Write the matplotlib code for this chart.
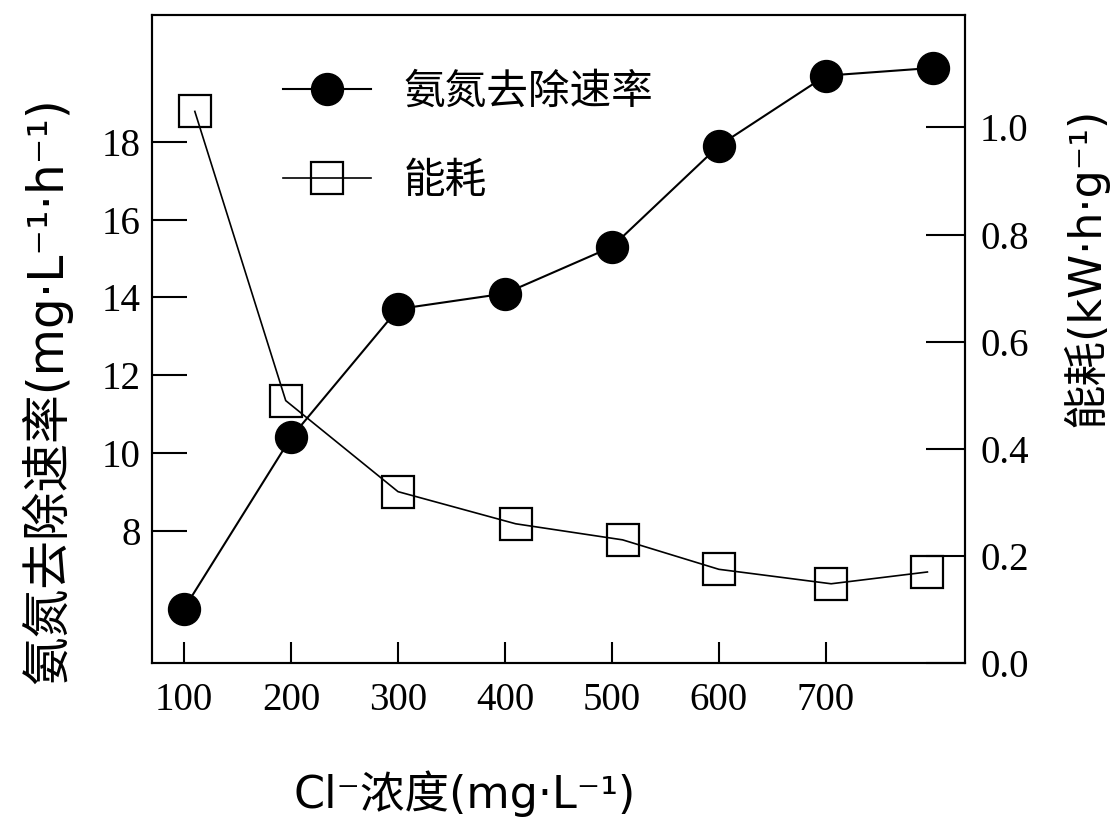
import matplotlib
matplotlib.use("Agg")
import matplotlib.pyplot as plt

cl_conc = [100, 200, 300, 400, 500, 600, 700, 800]
removal_rate = [6.0, 10.4, 13.7, 14.1, 15.3, 17.9, 19.7, 19.9]

energy_x = [110, 195, 300, 410, 510, 600, 705, 795]
energy = [1.03, 0.49, 0.32, 0.26, 0.23, 0.175, 0.148, 0.17]

x_ticks = [100, 200, 300, 400, 500, 600, 700]
left_ticks = [8, 10, 12, 14, 16, 18]
right_ticks = [0.0, 0.2, 0.4, 0.6, 0.8, 1.0]

# latin first so the middle dot stays narrow, CJK falls through
lab_font = ["DejaVu Sans", "Noto Sans CJK SC"]
leg_font = ["Noto Sans CJK SC", "DejaVu Sans"]
serif = "Liberation Serif"

fig = plt.figure(figsize=(11.18, 8.34), dpi=100)
ax = fig.add_axes([0.136, 0.205, 0.727, 0.777])
ax2 = ax.twinx()

l1, = ax.plot(cl_conc, removal_rate, color="black", lw=1.5, marker="o",
              ms=23, mfc="black", mec="black", label="氨氮去除速率")
l2, = ax2.plot(energy_x, energy, color="black", lw=1.2, marker="s",
               ms=23, mfc="none", mec="black", mew=1.6, label="能耗")

ax.set_xlim(70, 830)
ax.set_ylim(4.6, 21.26)
ax2.set_ylim(0, 1.21)

ax.set_xticks(x_ticks)
ax.set_yticks(left_ticks)
ax2.set_yticks(right_ticks)
ax2.set_yticklabels([f"{v:.1f}" for v in right_ticks])

for a in (ax, ax2):
    for s in a.spines.values():
        s.set_linewidth(1.5)
    for lab in a.get_xticklabels() + a.get_yticklabels():
        lab.set_fontfamily(serif)
        lab.set_fontsize(28)

ax.tick_params(axis="x", direction="in", length=15, width=1.5, pad=14)
ax.tick_params(axis="y", direction="in", length=25, width=1.5, pad=8)
ax2.tick_params(axis="y", direction="in", length=28, width=1.5, pad=11)

ax.set_xlabel("Cl⁻浓度(mg·L⁻¹)", family=lab_font, fontsize=32)
ax.xaxis.set_label_coords(0.385, -0.165)
ax.set_ylabel("氨氮去除速率(mg·L⁻¹·h⁻¹)", family=lab_font, fontsize=35)
ax.yaxis.set_label_coords(-0.098, 0.42)
ax2.set_ylabel("能耗(kW·h·g⁻¹)", family=lab_font, fontsize=32)
ax2.yaxis.set_label_coords(1.12, 0.61)

ax.legend(handles=[l1, l2], loc="upper left", bbox_to_anchor=(0.115, 0.97),
          frameon=False, handlelength=2.1, labelspacing=1.15, handletextpad=0.8,
          prop={"family": leg_font, "size": 30})

fig.savefig("out.png", dpi=100)
